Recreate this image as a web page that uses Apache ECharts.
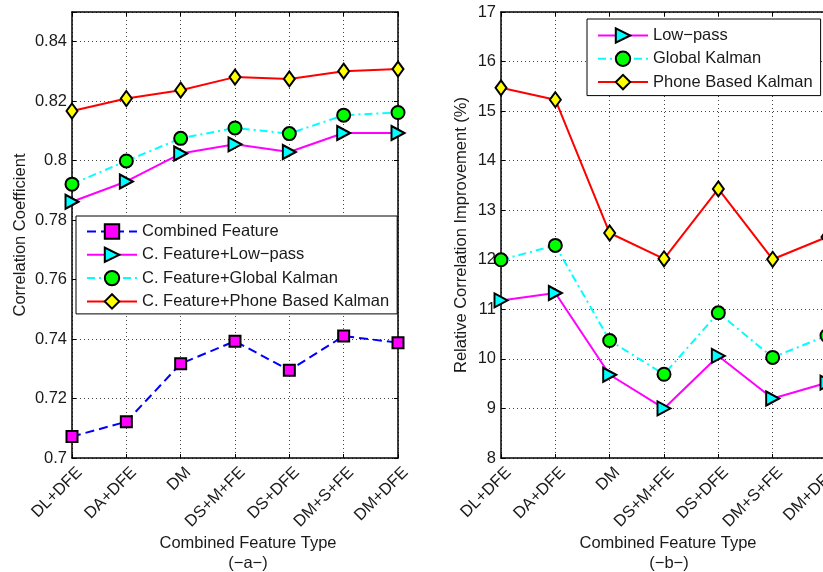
<!DOCTYPE html>
<html>
<head>
<meta charset="utf-8">
<script src="https://cdn.jsdelivr.net/npm/echarts@6/dist/echarts.min.js"></script>
<style>
html,body{margin:0;padding:0;background:#fff;overflow:hidden;width:823px;height:572px;}
#chart{width:830px;height:572px;}
</style>
</head>
<body>
<div id="chart"></div>
<script>
// ---- data ----
const categories = ['DL+DFE','DA+DFE','DM','DS+M+FE','DS+DFE','DM+S+FE','DM+DFE'];

// panel (a): correlation coefficient
const combinedA = [0.7072, 0.7122, 0.7317, 0.7393, 0.7295, 0.7410, 0.7388];
const lowpassA  = [0.7862, 0.7930, 0.8024, 0.8055, 0.8029, 0.8093, 0.8093];
const globalA   = [0.7921, 0.7999, 0.8075, 0.8110, 0.8091, 0.8153, 0.8162];
const phoneA    = [0.8167, 0.8209, 0.8237, 0.8281, 0.8275, 0.8301, 0.8308];

// panel (b): relative correlation improvement (%)
const lowpassB = [11.18, 11.33, 9.68, 9.00, 10.06, 9.20, 9.52];
const globalB  = [12.00, 12.29, 10.37, 9.69, 10.93, 10.03, 10.47];
const phoneB   = [15.47, 15.23, 12.54, 12.02, 13.43, 12.01, 12.46];

const namesA = ['Combined Feature', 'C. Feature+Low\u2212pass', 'C. Feature+Global Kalman', 'C. Feature+Phone Based Kalman'];
const namesB = ['Low\u2212pass', 'Global Kalman', 'Phone Based Kalman'];

// ---- styling ----
const FONT = "'Liberation Sans', Arial, sans-serif";
const FS = 16.5;
const TXT = '#1a1a1a';

const styles = {
  combined: {color:'#0000ff', type:[9,5], symbol:'rect', size:[11,11], fill:'#ff00ff', rotate:0},
  lowpass:  {color:'#ff00ff', type:'solid', symbol:'triangle', size:[14,13], fill:'#00ffff', rotate:-90},
  global:   {color:'#00ffff', type:[8,4,2,4], symbol:'circle', size:13, fill:'#00ff00', rotate:0},
  phone:    {color:'#ff0000', type:'solid', symbol:'diamond', size:[11,15], fill:'#ffff00', rotate:0}
};

function mkSeries(name, data, st, xi, yi){
  return {
    type:'line', name:name, data:data, xAxisIndex:xi, yAxisIndex:yi,
    clip:false, animation:false,
    symbol:st.symbol, symbolSize:st.size, symbolRotate:st.rotate,
    showAllSymbol:true,
    lineStyle:{color:st.color, width:2, type:st.type},
    itemStyle:{color:st.fill, borderColor:'#000', borderWidth:2},
    emphasis:{disabled:true},
    z:3
  };
}

const gridLine = {show:true, lineStyle:{color:'#444', width:1, type:[1,3]}};
const axLine = {show:true, onZero:false, lineStyle:{color:'#000', width:1.5}};

function xAx(gi, pos, labels){
  return {
    type:'category', data:categories, gridIndex:gi, position:pos, boundaryGap:false,
    axisLine:axLine,
    axisTick:{show:true, inside:true, length:4, alignWithLabel:true, interval:0, lineStyle:{color:'#000', width:1}},
    axisLabel: labels ? {show:true, interval:0, rotate:45, margin:19.5, padding:[0,-10.6,0,0],
      fontSize:FS, fontFamily:FONT, color:TXT, hideOverlap:false} : {show:false},
    splitLine: labels ? Object.assign({interval:0}, gridLine) : {show:false}
  };
}

function yAx(gi, pos, min, max, interval, labels, name, gap, fmt){
  return {
    type:'value', gridIndex:gi, position:pos, min:min, max:max, interval:interval,
    axisLine:axLine,
    axisTick:{show:true, inside:true, length:4, lineStyle:{color:'#000', width:1}},
    axisLabel: labels ? {show:true, margin:5, fontSize:FS, fontFamily:FONT, color:TXT, formatter:fmt} : {show:false},
    splitLine: labels ? gridLine : {show:false},
    name: labels ? name : '',
    nameLocation:'middle', nameGap:gap, nameRotate:90,
    nameTextStyle:{fontSize:FS, fontFamily:FONT, color:TXT}
  };
}

const fmtA = v => (Math.abs(v - 0.85) < 1e-9) ? '' : String(+v.toFixed(2));
const fmtB = v => String(Math.round(v));

const legendCommon = {
  orient:'vertical', itemWidth:50, itemHeight:18, itemGap:6.3,
  backgroundColor:'#fff', borderColor:'#000', borderWidth:1, borderRadius:0,
  textStyle:{fontSize:FS, fontFamily:FONT, color:TXT},
  inactiveColor:'#ccc', selectedMode:false
};

const option = {
  animation:false,
  backgroundColor:'#fff',
  grid:[
    {left:72, right:432, top:12, bottom:114, containLabel:false, outerBoundsMode:'none'},
    {left:501, right:3, top:12, bottom:114, containLabel:false, outerBoundsMode:'none'}
  ],
  xAxis:[ xAx(0,'bottom',true), xAx(0,'top',false), xAx(1,'bottom',true), xAx(1,'top',false) ],
  yAxis:[
    yAx(0,'left',0.7,0.85,0.02,true,'Correlation Coefficient',43,fmtA),
    yAx(0,'right',0.7,0.85,0.02,false,'',0,null),
    yAx(1,'left',8,17,1,true,'Relative Correlation Improvement (%)',31,fmtB),
    yAx(1,'right',8,17,1,false,'',0,null)
  ],
  legend:[
    Object.assign({}, legendCommon, {left:76, top:216, padding:[7,8,4,10], data:namesA}),
    Object.assign({}, legendCommon, {left:587, top:19, padding:[8,8,5,10], data:namesB})
  ],
  graphic:[
    {type:'text', x:248, y:543, style:{text:'Combined Feature Type', align:'center', verticalAlign:'middle', font:FS+'px '+FONT, fill:TXT}},
    {type:'text', x:248, y:563, style:{text:'(\u2212a\u2212)', align:'center', verticalAlign:'middle', font:FS+'px '+FONT, fill:TXT}},
    {type:'text', x:668, y:543, style:{text:'Combined Feature Type', align:'center', verticalAlign:'middle', font:FS+'px '+FONT, fill:TXT}},
    {type:'text', x:669, y:563, style:{text:'(\u2212b\u2212)', align:'center', verticalAlign:'middle', font:FS+'px '+FONT, fill:TXT}}
  ],
  series:[
    mkSeries(namesA[0], combinedA, styles.combined, 0, 0),
    mkSeries(namesA[1], lowpassA, styles.lowpass, 0, 0),
    mkSeries(namesA[2], globalA, styles.global, 0, 0),
    mkSeries(namesA[3], phoneA, styles.phone, 0, 0),
    mkSeries(namesB[0], lowpassB, styles.lowpass, 2, 2),
    mkSeries(namesB[1], globalB, styles.global, 2, 2),
    mkSeries(namesB[2], phoneB, styles.phone, 2, 2)
  ]
};

const chart = echarts.init(document.getElementById('chart'), null, {renderer:'canvas'});
chart.setOption(option);
</script>
</body>
</html>
